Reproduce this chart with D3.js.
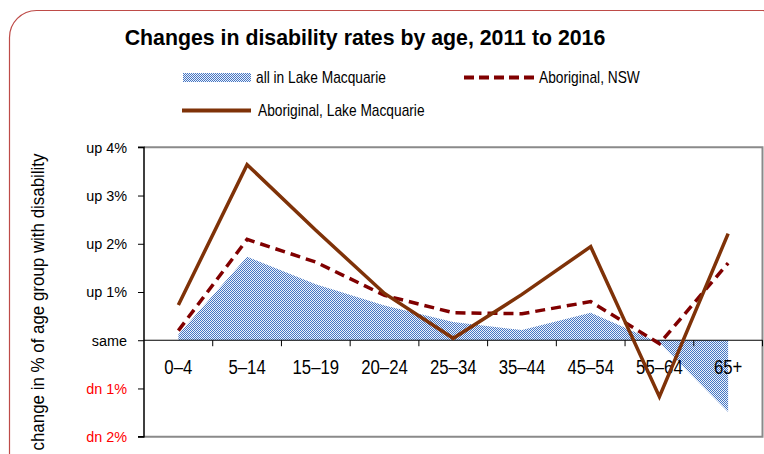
<!DOCTYPE html>
<html>
<head>
<meta charset="utf-8">
<script src="https://cdn.jsdelivr.net/npm/d3@7"></script>
<style>
  html, body { margin: 0; padding: 0; background: #fff; }
  svg { display: block; font-family: "Liberation Sans", Arial, sans-serif; }
</style>
</head>
<body>
<svg id="chart" width="764" height="454"></svg>
<script>
// ---- data ----
const categories = ["0–4", "5–14", "15–19", "20–24", "25–34", "35–44", "45–54", "55–64", "65+"];
const allLakeMacquarie = [0.12, 1.73, 1.16, 0.72, 0.38, 0.21, 0.57, -0.05, -1.49];
const aboriginalNSW = [0.20, 2.09, 1.62, 0.93, 0.57, 0.55, 0.80, -0.07, 1.60];
const aboriginalLakeMacquarie = [0.73, 3.64, 2.28, 0.97, 0.04, 0.95, 1.94, -1.17, 2.21];
const yTickValues = [-2, -1, 0, 1, 2, 3, 4];
const yTickLabels = ["dn 2%", "dn 1%", "same", "up 1%", "up 2%", "up 3%", "up 4%"];
const titleText = "Changes in disability rates by age, 2011 to 2016";
const yAxisTitle = "change in % of age group with disability";
const legendLabels = ["all in Lake Macquarie", "Aboriginal, NSW", "Aboriginal, Lake Macquarie"];

// ---- layout ----
const svg = d3.select("#chart");
const plot = { left: 144, right: 762.5, top: 147.3, bottom: 436.7 };

const x = d3.scalePoint().domain(categories).range([plot.left, plot.right]).padding(0.5);
const xBand = d3.scaleBand().domain(categories).range([plot.left, plot.right]);
const y = d3.scaleLinear().domain([-2, 4]).range([plot.bottom, plot.top]);

// checkerboard pattern
const defs = svg.append("defs");
const pat = defs.append("pattern").attr("id", "dots").attr("patternUnits", "userSpaceOnUse")
  .attr("width", 2).attr("height", 2);
pat.append("rect").attr("width", 2).attr("height", 2).attr("fill", "#eef3fb").attr("shape-rendering", "crispEdges");
pat.append("rect").attr("x", 0).attr("y", 0).attr("width", 1).attr("height", 1).attr("fill", "#4676c3").attr("shape-rendering", "crispEdges");
pat.append("rect").attr("x", 1).attr("y", 1).attr("width", 1).attr("height", 1).attr("fill", "#4676c3").attr("shape-rendering", "crispEdges");

// rounded outer border
svg.append("rect").attr("x", 9.5).attr("y", 10.5).attr("width", 780).attr("height", 470)
  .attr("rx", 27).attr("ry", 27).attr("fill", "none").attr("stroke", "#be4b48").attr("stroke-width", 1.2);

// title
svg.append("text").attr("x", 365).attr("y", 45).attr("text-anchor", "middle")
  .attr("font-weight", "bold").attr("font-size", 21.3).attr("fill", "#000").text(titleText);

// plot frame (gray)
svg.append("path")
  .attr("d", `M${plot.left},${plot.top}H${plot.right}V${plot.bottom}H${plot.left}`)
  .attr("fill", "none").attr("stroke", "#8a8a8a").attr("stroke-width", 2);

// area
const area = d3.area().x((d, i) => x(categories[i])).y0(y(0)).y1(d => y(d));
svg.append("path").datum(allLakeMacquarie).attr("d", area).attr("fill", "url(#dots)");

// zero line + ticks + category labels
const zeroG = svg.append("g").attr("transform", `translate(0,${y(0)})`);
zeroG.append("line").attr("x1", plot.left).attr("x2", plot.right).attr("stroke", "#000").attr("stroke-width", 1.2);
const bounds = categories.map(c => xBand(c) + xBand.bandwidth());
zeroG.selectAll("line.tk").data(bounds).join("line").attr("class", "tk")
  .attr("x1", d => d).attr("x2", d => d).attr("y1", 0).attr("y2", 6)
  .attr("stroke", "#000").attr("stroke-width", 1);
zeroG.selectAll("text.xl").data(categories).join("text").attr("class", "xl")
  .attr("x", d => x(d)).attr("y", 33.5).attr("text-anchor", "middle")
  .attr("font-size", 19.5).attr("fill", "#000")
  .attr("transform", d => `translate(${x(d)},0) scale(0.86,1) translate(${-x(d)},0)`)
  .text(d => d);

// y axis
const yAxis = d3.axisLeft(y).tickValues(yTickValues).tickSize(6)
  .tickFormat((d, i) => yTickLabels[i]);
const yG = svg.append("g").attr("transform", `translate(${plot.left},0)`).call(yAxis);
yG.select(".domain").attr("stroke", "#000").attr("stroke-width", 1.5).attr("d", `M-6,${plot.top}H0V${plot.bottom}H-6`);
yG.selectAll(".tick line").attr("stroke", "#000");
yG.selectAll(".tick text").attr("x", -17).attr("font-size", 15.5).attr("font-family", "\"Liberation Sans\", Arial, sans-serif")
  .attr("fill", d => d < 0 ? "#ff0000" : "#000")
  .attr("transform", "translate(-17,0) scale(0.93,1) translate(17,0)");

// lines
const line = d3.line().x((d, i) => x(categories[i])).y(d => y(d));
svg.append("path").datum(aboriginalNSW).attr("d", line).attr("fill", "none")
  .attr("stroke", "#800000").attr("stroke-width", 3.5).attr("stroke-dasharray", "10,6");
svg.append("path").datum(aboriginalLakeMacquarie).attr("d", line).attr("fill", "none")
  .attr("stroke", "#7f3208").attr("stroke-width", 3.5).attr("stroke-linejoin", "miter");

// y axis title
svg.append("text").attr("transform", "translate(44,302) rotate(-90) scale(0.94,1)").attr("text-anchor", "middle")
  .attr("font-size", 18).attr("fill", "#000").text(yAxisTitle);

// legend
const lg = svg.append("g");
function legendText(xp, yp, label) {
  lg.append("text").attr("x", xp).attr("y", yp).attr("font-size", 16)
    .attr("transform", `translate(${xp},0) scale(0.86,1) translate(${-xp},0)`).text(label);
}
lg.append("rect").attr("x", 183).attr("y", 73).attr("width", 68).attr("height", 9).attr("fill", "url(#dots)");
legendText(256, 83.5, legendLabels[0]);
lg.append("line").attr("x1", 464).attr("x2", 534).attr("y1", 77.5).attr("y2", 77.5)
  .attr("stroke", "#800000").attr("stroke-width", 4).attr("stroke-dasharray", "10,5");
legendText(539, 83.5, legendLabels[1]);
lg.append("line").attr("x1", 182).attr("x2", 251).attr("y1", 110.5).attr("y2", 110.5)
  .attr("stroke", "#7f3208").attr("stroke-width", 4);
legendText(258, 116.5, legendLabels[2]);
</script>
</body>
</html>
